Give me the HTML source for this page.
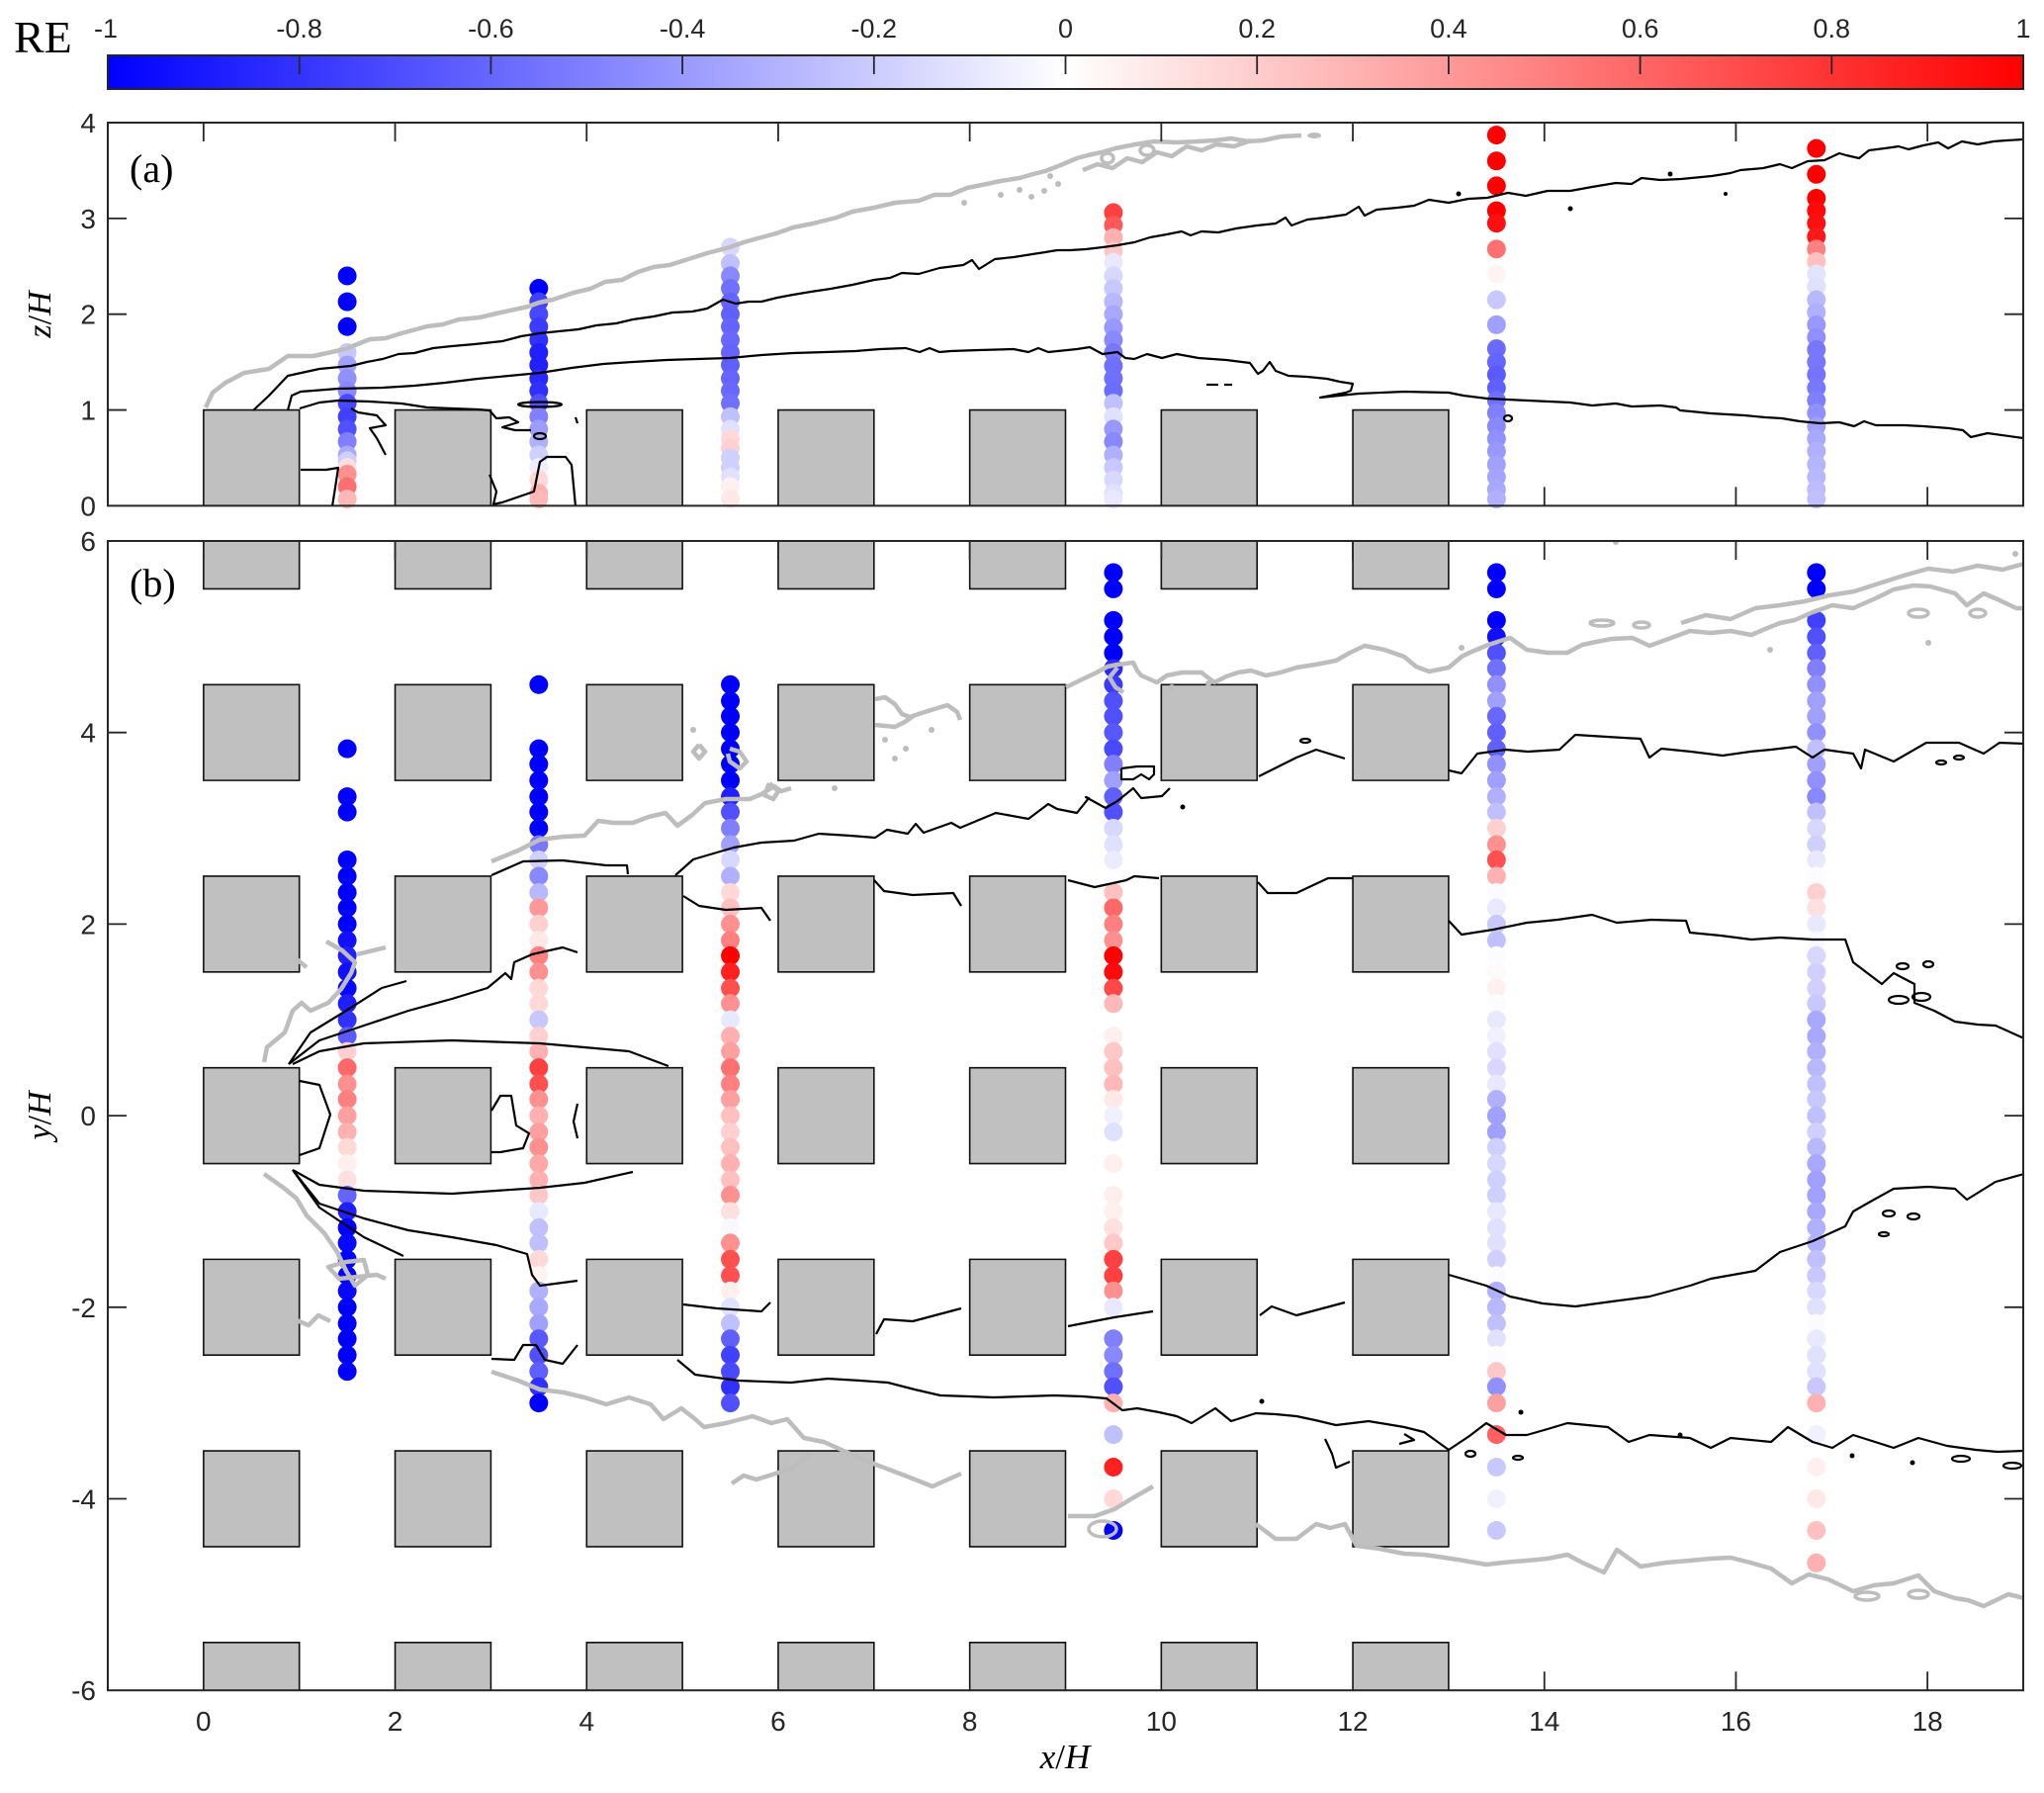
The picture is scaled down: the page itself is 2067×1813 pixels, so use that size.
<!DOCTYPE html>
<html><head><meta charset="utf-8"><style>
html,body{margin:0;padding:0;background:#fff;}
svg{display:block;}
.t{font-family:"Liberation Sans",Arial,sans-serif;font-size:28px;fill:#262626;}
.c{font-family:"Liberation Sans",Arial,sans-serif;font-size:27px;fill:#262626;}
.s{font-family:"Liberation Serif","Times New Roman",serif;fill:#000;}
.k{fill:none;stroke:#000;stroke-width:2.2;stroke-linejoin:round;}
.g{fill:none;stroke:#bdbdbd;stroke-width:4.5;stroke-linejoin:round;}
.b{fill:#c0c0c0;stroke:#111;stroke-width:1.6;vector-effect:non-scaling-stroke;}
.ax{fill:none;stroke:#262626;stroke-width:2;}
.tk{stroke:#262626;stroke-width:1.8;}
</style></head><body>
<svg width="2067" height="1813" viewBox="0 0 2067 1813" xmlns="http://www.w3.org/2000/svg">
<defs>
<linearGradient id="cb" x1="0" x2="1" y1="0" y2="0">
<stop offset="0" stop-color="#0000ff"/><stop offset="0.5" stop-color="#ffffff"/><stop offset="1" stop-color="#ff0000"/>
</linearGradient>
<clipPath id="ca"><rect x="109" y="124" width="1937" height="387.4"/></clipPath>
<clipPath id="cbp"><rect x="109" y="547" width="1937" height="1162.2"/></clipPath>
</defs>
<rect width="2067" height="1813" fill="#fff"/>

<!-- Colorbar -->
<text class="s" x="14" y="53" font-size="46">RE</text>
<rect x="109" y="56" width="1937" height="34" fill="url(#cb)" stroke="#262626" stroke-width="2"/>
<g class="tk">
<line x1="302.7" y1="56" x2="302.7" y2="75"/><line x1="496.4" y1="56" x2="496.4" y2="75"/>
<line x1="690.1" y1="56" x2="690.1" y2="75"/><line x1="883.8" y1="56" x2="883.8" y2="75"/>
<line x1="1077.5" y1="56" x2="1077.5" y2="75"/><line x1="1271.2" y1="56" x2="1271.2" y2="75"/>
<line x1="1464.9" y1="56" x2="1464.9" y2="75"/><line x1="1658.6" y1="56" x2="1658.6" y2="75"/>
<line x1="1852.3" y1="56" x2="1852.3" y2="75"/>
</g>
<g class="c" text-anchor="middle">
<text x="107" y="38">-1</text><text x="302.7" y="38">-0.8</text><text x="496.4" y="38">-0.6</text>
<text x="690.1" y="38">-0.4</text><text x="883.8" y="38">-0.2</text><text x="1077.5" y="38">0</text>
<text x="1271.2" y="38">0.2</text><text x="1464.9" y="38">0.4</text><text x="1658.6" y="38">0.6</text>
<text x="1852.3" y="38">0.8</text><text x="2046" y="38">1</text>
</g>

<!-- ================= PANEL A ================= -->
<g clip-path="url(#ca)">
<g transform="translate(205.85,511.4) scale(96.85,-96.85)">
<rect class="b" x="0" y="0" width="1" height="1"/><rect class="b" x="2" y="0" width="1" height="1"/>
<rect class="b" x="4" y="0" width="1" height="1"/><rect class="b" x="6" y="0" width="1" height="1"/>
<rect class="b" x="8" y="0" width="1" height="1"/><rect class="b" x="10" y="0" width="1" height="1"/>
<rect class="b" x="12" y="0" width="1" height="1"/>
</g>
</g>
<g transform="translate(205.85,511.4) scale(96.85,-96.85)">
<!-- col 1.5 -->
<circle cx="1.5" cy="2.4" r=".098" fill="#0000ff"/><circle cx="1.5" cy="2.13" r=".098" fill="#0000ff"/>
<circle cx="1.5" cy="1.87" r=".098" fill="#0000ff"/><circle cx="1.5" cy="1.6" r=".098" fill="#c8c8ff"/>
<circle cx="1.5" cy="1.47" r=".098" fill="#a0a0ff"/><circle cx="1.5" cy="1.33" r=".098" fill="#9090ff"/>
<circle cx="1.5" cy="1.2" r=".098" fill="#8888ff"/><circle cx="1.5" cy="1.07" r=".098" fill="#4848ff"/>
<circle cx="1.5" cy="0.93" r=".098" fill="#4040ff"/><circle cx="1.5" cy="0.8" r=".098" fill="#5050ff"/>
<circle cx="1.5" cy="0.67" r=".098" fill="#8080ff"/><circle cx="1.5" cy="0.53" r=".098" fill="#a8a8ff"/>
<circle cx="1.5" cy="0.47" r=".098" fill="#d0d0ff"/><circle cx="1.5" cy="0.4" r=".098" fill="#ffe0e0"/>
<circle cx="1.5" cy="0.33" r=".098" fill="#ff9090"/><circle cx="1.5" cy="0.2" r=".098" fill="#ff7070"/>
<circle cx="1.5" cy="0.07" r=".098" fill="#ffb8b8"/>
<!-- col 3.5 -->
<circle cx="3.5" cy="2.27" r=".098" fill="#0000ff"/><circle cx="3.5" cy="2.13" r=".098" fill="#4040ff"/>
<circle cx="3.5" cy="2.0" r=".098" fill="#4848ff"/><circle cx="3.5" cy="1.87" r=".098" fill="#3c3cff"/>
<circle cx="3.5" cy="1.73" r=".098" fill="#3030ff"/><circle cx="3.5" cy="1.6" r=".098" fill="#2020ff"/>
<circle cx="3.5" cy="1.47" r=".098" fill="#2020ff"/><circle cx="3.5" cy="1.33" r=".098" fill="#2828ff"/>
<circle cx="3.5" cy="1.2" r=".098" fill="#3030ff"/><circle cx="3.5" cy="1.07" r=".098" fill="#5050ff"/>
<circle cx="3.5" cy="0.93" r=".098" fill="#8080ff"/><circle cx="3.5" cy="0.8" r=".098" fill="#9c9cff"/>
<circle cx="3.5" cy="0.67" r=".098" fill="#b0b0ff"/><circle cx="3.5" cy="0.53" r=".098" fill="#d0d0ff"/>
<circle cx="3.5" cy="0.4" r=".098" fill="#eeeeff"/><circle cx="3.5" cy="0.27" r=".098" fill="#ffd8d8"/>
<circle cx="3.5" cy="0.13" r=".098" fill="#ffb0b0"/><circle cx="3.5" cy="0.07" r=".098" fill="#ffb8b8"/>
<!-- col 5.5 -->
<circle cx="5.5" cy="2.7" r=".098" fill="#d8d8ff"/><circle cx="5.5" cy="2.53" r=".098" fill="#c0c0ff"/>
<circle cx="5.5" cy="2.4" r=".098" fill="#8888ff"/><circle cx="5.5" cy="2.27" r=".098" fill="#7070ff"/>
<circle cx="5.5" cy="2.13" r=".098" fill="#6464ff"/><circle cx="5.5" cy="2.0" r=".098" fill="#6060ff"/>
<circle cx="5.5" cy="1.87" r=".098" fill="#6464ff"/><circle cx="5.5" cy="1.73" r=".098" fill="#6868ff"/>
<circle cx="5.5" cy="1.6" r=".098" fill="#6464ff"/><circle cx="5.5" cy="1.47" r=".098" fill="#6060ff"/>
<circle cx="5.5" cy="1.33" r=".098" fill="#6464ff"/><circle cx="5.5" cy="1.2" r=".098" fill="#6868ff"/>
<circle cx="5.5" cy="1.07" r=".098" fill="#7070ff"/><circle cx="5.5" cy="0.93" r=".098" fill="#c0c0ff"/>
<circle cx="5.5" cy="0.8" r=".098" fill="#e0e0ff"/><circle cx="5.5" cy="0.7" r=".098" fill="#ffd8d8"/>
<circle cx="5.5" cy="0.6" r=".098" fill="#ffd0d0"/><circle cx="5.5" cy="0.5" r=".098" fill="#d0d0ff"/>
<circle cx="5.5" cy="0.4" r=".098" fill="#d0d0ff"/><circle cx="5.5" cy="0.3" r=".098" fill="#e0e0ff"/>
<circle cx="5.5" cy="0.2" r=".098" fill="#fff0f0"/><circle cx="5.5" cy="0.07" r=".098" fill="#ffe8e8"/>
<!-- col 9.5 -->
<circle cx="9.5" cy="3.06" r=".098" fill="#ff4040"/><circle cx="9.5" cy="2.93" r=".098" fill="#ff5858"/>
<circle cx="9.5" cy="2.8" r=".098" fill="#ffb0b0"/><circle cx="9.5" cy="2.66" r=".098" fill="#ffc8c8"/>
<circle cx="9.5" cy="2.54" r=".098" fill="#e8e8ff"/><circle cx="9.5" cy="2.4" r=".098" fill="#d8d8ff"/>
<circle cx="9.5" cy="2.27" r=".098" fill="#c8c8ff"/><circle cx="9.5" cy="2.13" r=".098" fill="#b8b8ff"/>
<circle cx="9.5" cy="2.0" r=".098" fill="#a8a8ff"/><circle cx="9.5" cy="1.86" r=".098" fill="#9898ff"/>
<circle cx="9.5" cy="1.73" r=".098" fill="#8888ff"/><circle cx="9.5" cy="1.6" r=".098" fill="#7878ff"/>
<circle cx="9.5" cy="1.46" r=".098" fill="#7070ff"/><circle cx="9.5" cy="1.33" r=".098" fill="#7070ff"/>
<circle cx="9.5" cy="1.2" r=".098" fill="#6c6cff"/><circle cx="9.5" cy="1.07" r=".098" fill="#c0c0ff"/>
<circle cx="9.5" cy="0.93" r=".098" fill="#e0e0ff"/><circle cx="9.5" cy="0.8" r=".098" fill="#9898ff"/>
<circle cx="9.5" cy="0.67" r=".098" fill="#8888ff"/><circle cx="9.5" cy="0.53" r=".098" fill="#b0b0ff"/>
<circle cx="9.5" cy="0.4" r=".098" fill="#c8c8ff"/><circle cx="9.5" cy="0.27" r=".098" fill="#d8d8ff"/>
<circle cx="9.5" cy="0.13" r=".098" fill="#e0e0ff"/><circle cx="9.5" cy="0.07" r=".098" fill="#e8e8ff"/>
<!-- col 13.5 -->
<circle cx="13.5" cy="3.87" r=".098" fill="#ff0000"/><circle cx="13.5" cy="3.6" r=".098" fill="#ff0000"/>
<circle cx="13.5" cy="3.34" r=".098" fill="#ff0000"/><circle cx="13.5" cy="3.08" r=".098" fill="#ff0000"/>
<circle cx="13.5" cy="2.95" r=".098" fill="#ff1010"/><circle cx="13.5" cy="2.68" r=".098" fill="#ff7070"/>
<circle cx="13.5" cy="2.42" r=".098" fill="#fff4f4"/><circle cx="13.5" cy="2.15" r=".098" fill="#c8c8ff"/>
<circle cx="13.5" cy="1.89" r=".098" fill="#a0a0ff"/><circle cx="13.5" cy="1.64" r=".098" fill="#6a6aff"/>
<circle cx="13.5" cy="1.5" r=".098" fill="#6464ff"/><circle cx="13.5" cy="1.37" r=".098" fill="#5a5aff"/>
<circle cx="13.5" cy="1.23" r=".098" fill="#6060ff"/><circle cx="13.5" cy="1.1" r=".098" fill="#7070ff"/>
<circle cx="13.5" cy="0.97" r=".098" fill="#8080ff"/><circle cx="13.5" cy="0.83" r=".098" fill="#8888ff"/>
<circle cx="13.5" cy="0.7" r=".098" fill="#9090ff"/><circle cx="13.5" cy="0.57" r=".098" fill="#9898ff"/>
<circle cx="13.5" cy="0.43" r=".098" fill="#a0a0ff"/><circle cx="13.5" cy="0.3" r=".098" fill="#a4a4ff"/>
<circle cx="13.5" cy="0.17" r=".098" fill="#a8a8ff"/><circle cx="13.5" cy="0.07" r=".098" fill="#b0b0ff"/>
<!-- col 16.84 -->
<circle cx="16.84" cy="3.73" r=".098" fill="#ff0000"/><circle cx="16.84" cy="3.46" r=".098" fill="#ff0000"/>
<circle cx="16.84" cy="3.21" r=".098" fill="#ff0000"/><circle cx="16.84" cy="3.08" r=".098" fill="#ff0a0a"/>
<circle cx="16.84" cy="2.95" r=".098" fill="#ff1010"/><circle cx="16.84" cy="2.81" r=".098" fill="#ff1818"/>
<circle cx="16.84" cy="2.68" r=".098" fill="#ff8080"/><circle cx="16.84" cy="2.55" r=".098" fill="#ffc0c0"/>
<circle cx="16.84" cy="2.42" r=".098" fill="#e4e4ff"/><circle cx="16.84" cy="2.29" r=".098" fill="#e0e0ff"/>
<circle cx="16.84" cy="2.15" r=".098" fill="#b8b8ff"/><circle cx="16.84" cy="2.02" r=".098" fill="#b0b0ff"/>
<circle cx="16.84" cy="1.89" r=".098" fill="#9898ff"/><circle cx="16.84" cy="1.76" r=".098" fill="#9090ff"/>
<circle cx="16.84" cy="1.63" r=".098" fill="#7878ff"/><circle cx="16.84" cy="1.5" r=".098" fill="#7878ff"/>
<circle cx="16.84" cy="1.37" r=".098" fill="#7474ff"/><circle cx="16.84" cy="1.23" r=".098" fill="#7878ff"/>
<circle cx="16.84" cy="1.1" r=".098" fill="#8080ff"/><circle cx="16.84" cy="0.97" r=".098" fill="#9090ff"/>
<circle cx="16.84" cy="0.83" r=".098" fill="#a0a0ff"/><circle cx="16.84" cy="0.7" r=".098" fill="#a8a8ff"/>
<circle cx="16.84" cy="0.57" r=".098" fill="#b0b0ff"/><circle cx="16.84" cy="0.43" r=".098" fill="#b4b4ff"/>
<circle cx="16.84" cy="0.3" r=".098" fill="#b8b8ff"/><circle cx="16.84" cy="0.17" r=".098" fill="#bcbcff"/>
<circle cx="16.84" cy="0.07" r=".098" fill="#c0c0ff"/>
</g>
<g clip-path="url(#ca)">
<polyline class="g" points="208,412 215,397 228,387 247,377 272,373 291,360 317,360 349,353 374,343 390,342 406,337 432,330 448,328 464,323 485,321 502,317 534,310 545,306 559,303 580,296 597,292 612,285 629,283 645,275 661,270 677,268 693,263 715,256 738,250 752,245 770,240 785,236 802,230 822,226 846,220 862,214 884,210 905,205 929,203 945,197 961,197 978,190 993,187 1012,183 1031,180 1045,176 1057,173 1075,166 1089,160 1100,157 1114,154 1128,150 1148,146 1167,143 1190,144 1212,143 1228,142 1245,140 1262,143 1277,142 1296,138 1316,137"/>
<polyline class="g" points="1095,172 1110,166 1125,170 1140,160 1155,164 1170,154 1185,158 1200,148 1215,152 1230,146 1248,148 1265,142"/>
<ellipse cx="1120" cy="160" rx="6" ry="5" fill="none" stroke="#bdbdbd" stroke-width="3.5"/>
<ellipse cx="1160" cy="152" rx="7" ry="5" fill="none" stroke="#bdbdbd" stroke-width="3.5"/>
<circle cx="1031" cy="192" r="3" fill="#bdbdbd"/><circle cx="1043" cy="199" r="3" fill="#bdbdbd"/><circle cx="1062" cy="178" r="3" fill="#bdbdbd"/><circle cx="1012" cy="197" r="3" fill="#bdbdbd"/><circle cx="975" cy="205" r="3" fill="#bdbdbd"/><circle cx="1056" cy="193" r="3" fill="#bdbdbd"/><circle cx="1070" cy="186" r="3" fill="#bdbdbd"/>
<ellipse cx="1329" cy="137" rx="7" ry="3" fill="#bdbdbd"/>
<polyline class="k" points="256,415 272,400 291,380 323,373 355,370 371,366 387,363 403,358 419,357 438,352 457,350 480,348 508,345 527,340 546,337 565,335 585,333 603,329 623,327 640,323 661,320 680,316 700,315 715,312 731,303 744,307 757,305 770,305 786,301 802,298 820,295 840,292 862,288 884,283 900,281 912,276 929,277 950,271 974,268 983,263 990,272 1006,262 1025,260 1044,257 1057,255 1069,253 1082,253 1098,252 1115,250 1130,248 1147,245 1163,240 1180,237 1195,234 1204,238 1215,234 1232,235 1250,231 1271,228 1290,226 1300,220 1306,228 1322,222 1340,220 1361,217 1374,209 1380,218 1392,212 1413,210 1430,208 1445,202 1465,205 1485,201 1504,200 1525,195 1543,198 1565,193 1588,193 1610,189 1634,185 1650,186 1660,180 1679,182 1700,181 1731,178 1750,175 1760,172 1783,170 1800,166 1812,170 1828,163 1845,162 1860,155 1867,157 1880,160 1890,152 1906,150 1920,148 1930,151 1945,147 1960,144 1970,150 1984,143 2000,146 2016,143 2029,142 2046,141"/>
<polyline class="k" points="291,415 295,400 304,396 342,393 387,392 419,390 450,387 483,383 515,380 546,377 578,372 610,368 640,366 674,364 705,363 738,362 770,359 802,357 835,356 865,355 890,353 916,352 930,356 940,352 950,356 961,355 990,354 1025,353 1040,356 1050,352 1060,356 1089,353 1102,351 1115,358 1130,356 1138,362 1147,363 1160,358 1175,362 1190,358 1212,362 1240,364 1264,367 1272,378 1277,375 1284,366 1290,375 1303,380 1322,381 1342,383 1355,386 1368,388 1366,395 1361,397 1335,402 1374,398 1420,396 1465,397 1480,400 1504,403 1545,405 1588,407 1610,410 1634,408 1650,411 1679,410 1695,412 1699,415 1710,416 1730,418 1764,420 1785,422 1802,423 1820,426 1841,428 1860,427 1875,431 1885,426 1897,430 1926,430 1945,431 1971,433 1985,435 1993,442 2010,438 2046,443"/>
<polyline class="k" points="303,413 323,407 342,405 374,406 406,408 432,412 483,414 495,415 502,423 515,422 524,427 508,432 521,435 537,435"/>
<polyline class="k" points="355,413 362,417 381,420 390,430 374,433 381,443 390,460"/>
<polyline class="k" points="304,475 330,475 342,473 339,493 336,512"/>
<polyline class="k" points="495,480 502,497 499,510 508,508 540,497 546,467 553,462 572,462 578,470 582,512"/>
<ellipse class="k" cx="546" cy="409" rx="22" ry="2.5"/>
<ellipse class="k" cx="546" cy="441" rx="6" ry="3"/>
<line class="k" x1="1220" y1="389" x2="1232" y2="389"/><line class="k" x1="1238" y1="389" x2="1246" y2="389"/>
<line class="k" x1="582" y1="422" x2="584" y2="428"/>
<ellipse class="k" cx="1525" cy="423" rx="4" ry="3"/>
<circle cx="1475" cy="196" r="2.5"/><circle cx="1689" cy="176" r="2.5"/><circle cx="1745" cy="196" r="2"/><circle cx="1588" cy="211" r="2.5"/>
</g>
<rect class="ax" x="109" y="124" width="1937" height="387.4"/>
<g class="tk">
<line x1="205.85" y1="124" x2="205.85" y2="143"/><line x1="399.55" y1="124" x2="399.55" y2="143"/><line x1="593.25" y1="124" x2="593.25" y2="143"/><line x1="786.95" y1="124" x2="786.95" y2="143"/><line x1="980.65" y1="124" x2="980.65" y2="143"/><line x1="1174.35" y1="124" x2="1174.35" y2="143"/><line x1="1368.05" y1="124" x2="1368.05" y2="143"/><line x1="1561.75" y1="124" x2="1561.75" y2="143"/><line x1="1755.45" y1="124" x2="1755.45" y2="143"/><line x1="1949.15" y1="124" x2="1949.15" y2="143"/>
<line x1="1561.75" y1="511.4" x2="1561.75" y2="492.4"/><line x1="1755.45" y1="511.4" x2="1755.45" y2="492.4"/><line x1="1949.15" y1="511.4" x2="1949.15" y2="492.4"/>
<line x1="109" y1="414.55" x2="128" y2="414.55"/><line x1="109" y1="317.7" x2="128" y2="317.7"/><line x1="109" y1="220.85" x2="128" y2="220.85"/>
<line x1="2046" y1="414.55" x2="2027" y2="414.55"/><line x1="2046" y1="317.7" x2="2027" y2="317.7"/><line x1="2046" y1="220.85" x2="2027" y2="220.85"/>
</g>
<g class="t" text-anchor="end">
<text x="97" y="521.4">0</text><text x="97" y="424.6">1</text><text x="97" y="327.7">2</text><text x="97" y="230.9">3</text><text x="97" y="134">4</text>
</g>
<text class="s" x="131" y="184" font-size="40">(a)</text>
<text class="s" font-size="34" text-anchor="middle" transform="translate(51,318) rotate(-90)"><tspan font-style="italic">z</tspan>/<tspan font-style="italic">H</tspan></text>

<!-- ================= PANEL B ================= -->
<g clip-path="url(#cbp)">
<g transform="translate(205.85,1128.1) scale(96.85,-96.85)">
<g id="row">
<rect class="b" x="0" y="-0.5" width="1" height="1"/><rect class="b" x="2" y="-0.5" width="1" height="1"/>
<rect class="b" x="4" y="-0.5" width="1" height="1"/><rect class="b" x="6" y="-0.5" width="1" height="1"/>
<rect class="b" x="8" y="-0.5" width="1" height="1"/><rect class="b" x="10" y="-0.5" width="1" height="1"/>
<rect class="b" x="12" y="-0.5" width="1" height="1"/>
</g>
<use href="#row" y="2"/><use href="#row" y="4"/><use href="#row" y="6"/>
<use href="#row" y="-2"/><use href="#row" y="-4"/><use href="#row" y="-6"/>
</g>
</g>
<g transform="translate(205.85,1128.1) scale(96.85,-96.85)">
<!-- col 1.5 -->
<circle cx="1.5" cy="3.83" r=".098" fill="#0000ff"/><circle cx="1.5" cy="3.33" r=".098" fill="#0000ff"/>
<circle cx="1.5" cy="3.17" r=".098" fill="#0000ff"/><circle cx="1.5" cy="2.67" r=".098" fill="#0000ff"/>
<circle cx="1.5" cy="2.5" r=".098" fill="#0000ff"/><circle cx="1.5" cy="2.33" r=".098" fill="#0000ff"/>
<circle cx="1.5" cy="2.17" r=".098" fill="#0000ff"/><circle cx="1.5" cy="2.0" r=".098" fill="#0000ff"/>
<circle cx="1.5" cy="1.83" r=".098" fill="#1010ff"/><circle cx="1.5" cy="1.67" r=".098" fill="#2020ff"/>
<circle cx="1.5" cy="1.5" r=".098" fill="#1010ff"/><circle cx="1.5" cy="1.33" r=".098" fill="#0808ff"/>
<circle cx="1.5" cy="1.17" r=".098" fill="#2020ff"/><circle cx="1.5" cy="1.0" r=".098" fill="#3030ff"/>
<circle cx="1.5" cy="0.83" r=".098" fill="#5a5aff"/><circle cx="1.5" cy="0.67" r=".098" fill="#ffd0d0"/>
<circle cx="1.5" cy="0.5" r=".098" fill="#ff6868"/><circle cx="1.5" cy="0.33" r=".098" fill="#ff9090"/>
<circle cx="1.5" cy="0.17" r=".098" fill="#ff8080"/><circle cx="1.5" cy="0" r=".098" fill="#ffa0a0"/>
<circle cx="1.5" cy="-0.17" r=".098" fill="#ffb0b0"/><circle cx="1.5" cy="-0.33" r=".098" fill="#ffd8d8"/>
<circle cx="1.5" cy="-0.5" r=".098" fill="#fff0f0"/><circle cx="1.5" cy="-0.67" r=".098" fill="#ffe0e0"/>
<circle cx="1.5" cy="-0.83" r=".098" fill="#6464ff"/><circle cx="1.5" cy="-1.0" r=".098" fill="#2020ff"/>
<circle cx="1.5" cy="-1.17" r=".098" fill="#0000ff"/><circle cx="1.5" cy="-1.33" r=".098" fill="#0808ff"/>
<circle cx="1.5" cy="-1.5" r=".098" fill="#0000ff"/><circle cx="1.5" cy="-1.67" r=".098" fill="#0000ff"/>
<circle cx="1.5" cy="-1.83" r=".098" fill="#0808ff"/><circle cx="1.5" cy="-2.0" r=".098" fill="#0000ff"/>
<circle cx="1.5" cy="-2.17" r=".098" fill="#0000ff"/><circle cx="1.5" cy="-2.33" r=".098" fill="#0000ff"/>
<circle cx="1.5" cy="-2.5" r=".098" fill="#0000ff"/><circle cx="1.5" cy="-2.67" r=".098" fill="#0000ff"/>
<!-- col 3.5 -->
<circle cx="3.5" cy="4.5" r=".098" fill="#0000ff"/><circle cx="3.5" cy="3.83" r=".098" fill="#0000ff"/>
<circle cx="3.5" cy="3.67" r=".098" fill="#0000ff"/><circle cx="3.5" cy="3.5" r=".098" fill="#0000ff"/>
<circle cx="3.5" cy="3.33" r=".098" fill="#0000ff"/><circle cx="3.5" cy="3.17" r=".098" fill="#0000ff"/>
<circle cx="3.5" cy="3.0" r=".098" fill="#0000ff"/><circle cx="3.5" cy="2.83" r=".098" fill="#7878ff"/>
<circle cx="3.5" cy="2.67" r=".098" fill="#d0d0ff"/><circle cx="3.5" cy="2.5" r=".098" fill="#8888ff"/>
<circle cx="3.5" cy="2.33" r=".098" fill="#b8b8ff"/><circle cx="3.5" cy="2.17" r=".098" fill="#ff9898"/>
<circle cx="3.5" cy="2.0" r=".098" fill="#ffd0d0"/><circle cx="3.5" cy="1.83" r=".098" fill="#ffe8e8"/>
<circle cx="3.5" cy="1.67" r=".098" fill="#ff8080"/><circle cx="3.5" cy="1.5" r=".098" fill="#ff9090"/>
<circle cx="3.5" cy="1.33" r=".098" fill="#ffd8d8"/><circle cx="3.5" cy="1.17" r=".098" fill="#ffd8d8"/>
<circle cx="3.5" cy="1.0" r=".098" fill="#c8c8ff"/><circle cx="3.5" cy="0.83" r=".098" fill="#ffd0d0"/>
<circle cx="3.5" cy="0.67" r=".098" fill="#ffb0b0"/><circle cx="3.5" cy="0.5" r=".098" fill="#ff4040"/>
<circle cx="3.5" cy="0.33" r=".098" fill="#ff5050"/><circle cx="3.5" cy="0.17" r=".098" fill="#ff9090"/>
<circle cx="3.5" cy="0" r=".098" fill="#ffb0b0"/><circle cx="3.5" cy="-0.17" r=".098" fill="#ffa0a0"/>
<circle cx="3.5" cy="-0.33" r=".098" fill="#ff9090"/><circle cx="3.5" cy="-0.5" r=".098" fill="#ffa8a8"/>
<circle cx="3.5" cy="-0.67" r=".098" fill="#ffb0b0"/><circle cx="3.5" cy="-0.83" r=".098" fill="#ffc8c8"/>
<circle cx="3.5" cy="-1.0" r=".098" fill="#e8e8ff"/><circle cx="3.5" cy="-1.17" r=".098" fill="#c0c0ff"/>
<circle cx="3.5" cy="-1.33" r=".098" fill="#c0c0ff"/><circle cx="3.5" cy="-1.5" r=".098" fill="#ffd8d8"/>
<circle cx="3.5" cy="-1.67" r=".098" fill="#fff4f4"/><circle cx="3.5" cy="-1.83" r=".098" fill="#b0b0ff"/>
<circle cx="3.5" cy="-2.0" r=".098" fill="#a8a8ff"/><circle cx="3.5" cy="-2.17" r=".098" fill="#a0a0ff"/>
<circle cx="3.5" cy="-2.33" r=".098" fill="#5858ff"/><circle cx="3.5" cy="-2.5" r=".098" fill="#5050ff"/>
<circle cx="3.5" cy="-2.67" r=".098" fill="#6060ff"/><circle cx="3.5" cy="-2.83" r=".098" fill="#3030ff"/>
<circle cx="3.5" cy="-3.0" r=".098" fill="#0000ff"/>
<!-- col 5.5 -->
<circle cx="5.5" cy="4.5" r=".098" fill="#0000ff"/><circle cx="5.5" cy="4.33" r=".098" fill="#0000ff"/>
<circle cx="5.5" cy="4.17" r=".098" fill="#0000ff"/><circle cx="5.5" cy="4.0" r=".098" fill="#0000ff"/>
<circle cx="5.5" cy="3.83" r=".098" fill="#0000ff"/><circle cx="5.5" cy="3.67" r=".098" fill="#0000ff"/>
<circle cx="5.5" cy="3.5" r=".098" fill="#0000ff"/><circle cx="5.5" cy="3.33" r=".098" fill="#2020ff"/>
<circle cx="5.5" cy="3.17" r=".098" fill="#5050ff"/><circle cx="5.5" cy="3.0" r=".098" fill="#8080ff"/>
<circle cx="5.5" cy="2.83" r=".098" fill="#a0a0ff"/><circle cx="5.5" cy="2.67" r=".098" fill="#d8d8ff"/>
<circle cx="5.5" cy="2.5" r=".098" fill="#b0b0ff"/><circle cx="5.5" cy="2.33" r=".098" fill="#ffd8d8"/>
<circle cx="5.5" cy="2.17" r=".098" fill="#ffc0c0"/><circle cx="5.5" cy="2.0" r=".098" fill="#ff9090"/>
<circle cx="5.5" cy="1.83" r=".098" fill="#ff8080"/><circle cx="5.5" cy="1.67" r=".098" fill="#ff0000"/>
<circle cx="5.5" cy="1.5" r=".098" fill="#ff2020"/><circle cx="5.5" cy="1.33" r=".098" fill="#ff5050"/>
<circle cx="5.5" cy="1.17" r=".098" fill="#ff9090"/><circle cx="5.5" cy="1.0" r=".098" fill="#e8e8ff"/>
<circle cx="5.5" cy="0.83" r=".098" fill="#ffb0b0"/><circle cx="5.5" cy="0.67" r=".098" fill="#ffa0a0"/>
<circle cx="5.5" cy="0.5" r=".098" fill="#ff7070"/><circle cx="5.5" cy="0.33" r=".098" fill="#ff8080"/>
<circle cx="5.5" cy="0.17" r=".098" fill="#ffa0a0"/><circle cx="5.5" cy="0" r=".098" fill="#ffc0c0"/>
<circle cx="5.5" cy="-0.17" r=".098" fill="#ffd0d0"/><circle cx="5.5" cy="-0.33" r=".098" fill="#ffc0c0"/>
<circle cx="5.5" cy="-0.5" r=".098" fill="#ffb0b0"/><circle cx="5.5" cy="-0.67" r=".098" fill="#ffc0c0"/>
<circle cx="5.5" cy="-0.83" r=".098" fill="#ff9090"/><circle cx="5.5" cy="-1.0" r=".098" fill="#ffe0e0"/>
<circle cx="5.5" cy="-1.17" r=".098" fill="#f8f8ff"/><circle cx="5.5" cy="-1.33" r=".098" fill="#ff9090"/>
<circle cx="5.5" cy="-1.5" r=".098" fill="#ff5050"/><circle cx="5.5" cy="-1.67" r=".098" fill="#ff5050"/>
<circle cx="5.5" cy="-1.83" r=".098" fill="#fff0f0"/><circle cx="5.5" cy="-2.0" r=".098" fill="#e0e0ff"/>
<circle cx="5.5" cy="-2.17" r=".098" fill="#c0c0ff"/><circle cx="5.5" cy="-2.33" r=".098" fill="#6060ff"/>
<circle cx="5.5" cy="-2.5" r=".098" fill="#4040ff"/><circle cx="5.5" cy="-2.67" r=".098" fill="#4848ff"/>
<circle cx="5.5" cy="-2.83" r=".098" fill="#3030ff"/><circle cx="5.5" cy="-3.0" r=".098" fill="#5050ff"/>
<!-- col 9.5 -->
<circle cx="9.5" cy="5.67" r=".098" fill="#0000ff"/><circle cx="9.5" cy="5.5" r=".098" fill="#0000ff"/>
<circle cx="9.5" cy="5.17" r=".098" fill="#0000ff"/><circle cx="9.5" cy="5.0" r=".098" fill="#0000ff"/>
<circle cx="9.5" cy="4.83" r=".098" fill="#0000ff"/><circle cx="9.5" cy="4.67" r=".098" fill="#2a2aff"/>
<circle cx="9.5" cy="4.5" r=".098" fill="#3a3aff"/><circle cx="9.5" cy="4.33" r=".098" fill="#5050ff"/>
<circle cx="9.5" cy="4.17" r=".098" fill="#5050ff"/><circle cx="9.5" cy="4.0" r=".098" fill="#5858ff"/>
<circle cx="9.5" cy="3.83" r=".098" fill="#4848ff"/><circle cx="9.5" cy="3.67" r=".098" fill="#8080ff"/>
<circle cx="9.5" cy="3.5" r=".098" fill="#a0a0ff"/><circle cx="9.5" cy="3.33" r=".098" fill="#6060ff"/>
<circle cx="9.5" cy="3.17" r=".098" fill="#5050ff"/><circle cx="9.5" cy="3.0" r=".098" fill="#d8d8ff"/>
<circle cx="9.5" cy="2.83" r=".098" fill="#e0e0ff"/><circle cx="9.5" cy="2.67" r=".098" fill="#ececff"/>
<circle cx="9.5" cy="2.33" r=".098" fill="#ffc0c0"/><circle cx="9.5" cy="2.17" r=".098" fill="#ff6868"/>
<circle cx="9.5" cy="2.0" r=".098" fill="#ff8080"/><circle cx="9.5" cy="1.83" r=".098" fill="#ff9090"/>
<circle cx="9.5" cy="1.67" r=".098" fill="#ff0000"/><circle cx="9.5" cy="1.5" r=".098" fill="#ff0a0a"/>
<circle cx="9.5" cy="1.33" r=".098" fill="#ff4848"/><circle cx="9.5" cy="1.17" r=".098" fill="#ffb8b8"/>
<circle cx="9.5" cy="0.83" r=".098" fill="#fff0f0"/><circle cx="9.5" cy="0.67" r=".098" fill="#ffc8c8"/>
<circle cx="9.5" cy="0.5" r=".098" fill="#ffc0c0"/><circle cx="9.5" cy="0.33" r=".098" fill="#ffb8b8"/>
<circle cx="9.5" cy="0.17" r=".098" fill="#ffe8e8"/><circle cx="9.5" cy="0" r=".098" fill="#f0f0ff"/>
<circle cx="9.5" cy="-0.17" r=".098" fill="#e0e0ff"/><circle cx="9.5" cy="-0.5" r=".098" fill="#fff0f0"/>
<circle cx="9.5" cy="-0.83" r=".098" fill="#ffeeee"/><circle cx="9.5" cy="-1.0" r=".098" fill="#fff0f0"/>
<circle cx="9.5" cy="-1.17" r=".098" fill="#ffe0e0"/><circle cx="9.5" cy="-1.33" r=".098" fill="#ffc8c8"/>
<circle cx="9.5" cy="-1.5" r=".098" fill="#ff4040"/><circle cx="9.5" cy="-1.67" r=".098" fill="#ff4040"/>
<circle cx="9.5" cy="-1.83" r=".098" fill="#ff9090"/><circle cx="9.5" cy="-2.0" r=".098" fill="#e8e8ff"/>
<circle cx="9.5" cy="-2.33" r=".098" fill="#8080ff"/><circle cx="9.5" cy="-2.5" r=".098" fill="#8888ff"/>
<circle cx="9.5" cy="-2.67" r=".098" fill="#7070ff"/><circle cx="9.5" cy="-2.83" r=".098" fill="#5050ff"/>
<circle cx="9.5" cy="-3.0" r=".098" fill="#ffb0b0"/><circle cx="9.5" cy="-3.33" r=".098" fill="#c0c0ff"/>
<circle cx="9.5" cy="-3.67" r=".098" fill="#ff2020"/><circle cx="9.5" cy="-4.0" r=".098" fill="#ffd8d8"/>
<circle cx="9.5" cy="-4.33" r=".098" fill="#0000ff"/>
<!-- col 13.5 -->
<circle cx="13.5" cy="5.67" r=".098" fill="#0000ff"/><circle cx="13.5" cy="5.5" r=".098" fill="#0000ff"/>
<circle cx="13.5" cy="5.17" r=".098" fill="#0000ff"/><circle cx="13.5" cy="5.0" r=".098" fill="#1010ff"/>
<circle cx="13.5" cy="4.83" r=".098" fill="#5050ff"/><circle cx="13.5" cy="4.67" r=".098" fill="#7070ff"/>
<circle cx="13.5" cy="4.5" r=".098" fill="#9090ff"/><circle cx="13.5" cy="4.33" r=".098" fill="#a0a0ff"/>
<circle cx="13.5" cy="4.17" r=".098" fill="#6868ff"/><circle cx="13.5" cy="4.0" r=".098" fill="#6060ff"/>
<circle cx="13.5" cy="3.83" r=".098" fill="#6060ff"/><circle cx="13.5" cy="3.67" r=".098" fill="#9090ff"/>
<circle cx="13.5" cy="3.5" r=".098" fill="#a0a0ff"/><circle cx="13.5" cy="3.33" r=".098" fill="#b0b0ff"/>
<circle cx="13.5" cy="3.17" r=".098" fill="#c0c0ff"/><circle cx="13.5" cy="3.0" r=".098" fill="#ffd0d0"/>
<circle cx="13.5" cy="2.83" r=".098" fill="#ff9090"/><circle cx="13.5" cy="2.67" r=".098" fill="#ff5050"/>
<circle cx="13.5" cy="2.5" r=".098" fill="#ffb0b0"/><circle cx="13.5" cy="2.33" r=".098" fill="#fafaff"/>
<circle cx="13.5" cy="2.17" r=".098" fill="#e8e8ff"/><circle cx="13.5" cy="2.0" r=".098" fill="#c8c8ff"/>
<circle cx="13.5" cy="1.83" r=".098" fill="#c0c0ff"/><circle cx="13.5" cy="1.67" r=".098" fill="#fcfcff"/>
<circle cx="13.5" cy="1.5" r=".098" fill="#fffafa"/><circle cx="13.5" cy="1.33" r=".098" fill="#fff0f0"/>
<circle cx="13.5" cy="1.17" r=".098" fill="#fcfcff"/><circle cx="13.5" cy="1.0" r=".098" fill="#e8e8ff"/>
<circle cx="13.5" cy="0.83" r=".098" fill="#f0f0ff"/><circle cx="13.5" cy="0.67" r=".098" fill="#e0e0ff"/>
<circle cx="13.5" cy="0.5" r=".098" fill="#d8d8ff"/><circle cx="13.5" cy="0.33" r=".098" fill="#e8e8ff"/>
<circle cx="13.5" cy="0.17" r=".098" fill="#b0b0ff"/><circle cx="13.5" cy="0" r=".098" fill="#a0a0ff"/>
<circle cx="13.5" cy="-0.17" r=".098" fill="#a0a0ff"/><circle cx="13.5" cy="-0.33" r=".098" fill="#d0d0ff"/>
<circle cx="13.5" cy="-0.5" r=".098" fill="#d8d8ff"/><circle cx="13.5" cy="-0.67" r=".098" fill="#d0d0ff"/>
<circle cx="13.5" cy="-0.83" r=".098" fill="#d0d0ff"/><circle cx="13.5" cy="-1.0" r=".098" fill="#e8e8ff"/>
<circle cx="13.5" cy="-1.17" r=".098" fill="#e0e0ff"/><circle cx="13.5" cy="-1.33" r=".098" fill="#e0e0ff"/>
<circle cx="13.5" cy="-1.5" r=".098" fill="#d0d0ff"/><circle cx="13.5" cy="-1.67" r=".098" fill="#fcfcff"/>
<circle cx="13.5" cy="-1.83" r=".098" fill="#b0b0ff"/><circle cx="13.5" cy="-2.0" r=".098" fill="#b8b8ff"/>
<circle cx="13.5" cy="-2.17" r=".098" fill="#c0c0ff"/><circle cx="13.5" cy="-2.33" r=".098" fill="#e0e0ff"/>
<circle cx="13.5" cy="-2.5" r=".098" fill="#fcfcff"/><circle cx="13.5" cy="-2.67" r=".098" fill="#ffc8c8"/>
<circle cx="13.5" cy="-2.83" r=".098" fill="#9090ff"/><circle cx="13.5" cy="-3.0" r=".098" fill="#ffa0a0"/>
<circle cx="13.5" cy="-3.33" r=".098" fill="#ff6060"/><circle cx="13.5" cy="-3.67" r=".098" fill="#c8c8ff"/>
<circle cx="13.5" cy="-4.0" r=".098" fill="#f0f0ff"/><circle cx="13.5" cy="-4.33" r=".098" fill="#c8c8ff"/>
<!-- col 16.84 -->
<circle cx="16.84" cy="5.67" r=".098" fill="#0000ff"/><circle cx="16.84" cy="5.5" r=".098" fill="#0000ff"/>
<circle cx="16.84" cy="5.17" r=".098" fill="#4040ff"/><circle cx="16.84" cy="5.0" r=".098" fill="#5050ff"/>
<circle cx="16.84" cy="4.83" r=".098" fill="#6060ff"/><circle cx="16.84" cy="4.67" r=".098" fill="#8080ff"/>
<circle cx="16.84" cy="4.5" r=".098" fill="#9090ff"/><circle cx="16.84" cy="4.33" r=".098" fill="#a0a0ff"/>
<circle cx="16.84" cy="4.17" r=".098" fill="#a0a0ff"/><circle cx="16.84" cy="4.0" r=".098" fill="#9090ff"/>
<circle cx="16.84" cy="3.83" r=".098" fill="#c0c0ff"/><circle cx="16.84" cy="3.67" r=".098" fill="#a0a0ff"/>
<circle cx="16.84" cy="3.5" r=".098" fill="#9090ff"/><circle cx="16.84" cy="3.33" r=".098" fill="#8888ff"/>
<circle cx="16.84" cy="3.17" r=".098" fill="#c0c0ff"/><circle cx="16.84" cy="3.0" r=".098" fill="#d8d8ff"/>
<circle cx="16.84" cy="2.83" r=".098" fill="#d0d0ff"/><circle cx="16.84" cy="2.67" r=".098" fill="#e8e8ff"/>
<circle cx="16.84" cy="2.5" r=".098" fill="#fcfcff"/><circle cx="16.84" cy="2.33" r=".098" fill="#ffd0d0"/>
<circle cx="16.84" cy="2.17" r=".098" fill="#ffe0e0"/><circle cx="16.84" cy="2.0" r=".098" fill="#e8e8ff"/>
<circle cx="16.84" cy="1.83" r=".098" fill="#f8f8ff"/><circle cx="16.84" cy="1.67" r=".098" fill="#d8d8ff"/>
<circle cx="16.84" cy="1.5" r=".098" fill="#d0d0ff"/><circle cx="16.84" cy="1.33" r=".098" fill="#d0d0ff"/>
<circle cx="16.84" cy="1.17" r=".098" fill="#c8c8ff"/><circle cx="16.84" cy="1.0" r=".098" fill="#a8a8ff"/>
<circle cx="16.84" cy="0.83" r=".098" fill="#a8a8ff"/><circle cx="16.84" cy="0.67" r=".098" fill="#b0b0ff"/>
<circle cx="16.84" cy="0.5" r=".098" fill="#b8b8ff"/><circle cx="16.84" cy="0.33" r=".098" fill="#c0c0ff"/>
<circle cx="16.84" cy="0.17" r=".098" fill="#c8c8ff"/><circle cx="16.84" cy="0" r=".098" fill="#c0c0ff"/>
<circle cx="16.84" cy="-0.17" r=".098" fill="#d0d0ff"/><circle cx="16.84" cy="-0.33" r=".098" fill="#b8b8ff"/>
<circle cx="16.84" cy="-0.5" r=".098" fill="#a8a8ff"/><circle cx="16.84" cy="-0.67" r=".098" fill="#a0a0ff"/>
<circle cx="16.84" cy="-0.83" r=".098" fill="#a0a0ff"/><circle cx="16.84" cy="-1.0" r=".098" fill="#a8a8ff"/>
<circle cx="16.84" cy="-1.17" r=".098" fill="#b0b0ff"/><circle cx="16.84" cy="-1.33" r=".098" fill="#b0b0ff"/>
<circle cx="16.84" cy="-1.5" r=".098" fill="#c0c0ff"/><circle cx="16.84" cy="-1.67" r=".098" fill="#c8c8ff"/>
<circle cx="16.84" cy="-1.83" r=".098" fill="#d8d8ff"/><circle cx="16.84" cy="-2.0" r=".098" fill="#e0e0ff"/>
<circle cx="16.84" cy="-2.17" r=".098" fill="#fafaff"/><circle cx="16.84" cy="-2.33" r=".098" fill="#e8e8ff"/>
<circle cx="16.84" cy="-2.5" r=".098" fill="#e0e0ff"/><circle cx="16.84" cy="-2.67" r=".098" fill="#e0e0ff"/>
<circle cx="16.84" cy="-2.83" r=".098" fill="#c8c8ff"/><circle cx="16.84" cy="-3.0" r=".098" fill="#ffb0b0"/>
<circle cx="16.84" cy="-3.33" r=".098" fill="#f0f0ff"/><circle cx="16.84" cy="-3.67" r=".098" fill="#fff0f0"/>
<circle cx="16.84" cy="-4.0" r=".098" fill="#ffe8e8"/><circle cx="16.84" cy="-4.33" r=".098" fill="#ffc0c0"/>
<circle cx="16.84" cy="-4.67" r=".098" fill="#ffb0b0"/>
</g>
<g clip-path="url(#cbp)">
<!-- gray contours -->
<polyline class="g" points="497,871 524,860 546,849 570,846 591,845 605,830 620,832 640,832 656,826 673,822 685,835 700,824 713,812 734,808 758,808 770,803 783,795 790,800 800,797"/>
<polyline class="g" points="778,792 787,800 782,808 773,804 778,792"/>
<polyline class="g" points="738,757 748,760 755,770 748,777 738,770 736,762"/>
<polyline class="g" points="707,753 713,760 707,767 701,760 707,753"/>
<circle cx="701" cy="738" r="3" fill="#bdbdbd"/><circle cx="895" cy="748" r="3" fill="#bdbdbd"/><circle cx="905" cy="767" r="3" fill="#bdbdbd"/><circle cx="942" cy="738" r="3" fill="#bdbdbd"/><circle cx="916" cy="757" r="3" fill="#bdbdbd"/><circle cx="844" cy="797" r="3" fill="#bdbdbd"/>
<polyline class="g" points="885,707 895,705 905,712 912,722 920,725 935,720 948,716 958,713 968,720 971,728"/>
<polyline class="g" points="885,733 905,735 915,730 925,723"/>
<polyline class="g" points="1078,695 1092,688 1109,680 1120,674 1130,672 1146,670 1150,678 1154,683 1170,690 1180,683 1195,680 1215,680 1228,690 1240,684 1252,680 1265,678 1280,683 1295,680 1311,675 1330,672 1351,668 1365,660 1380,653 1400,657 1420,664 1432,674 1445,679 1465,675 1478,664 1486,660 1505,652 1527,645 1544,657 1565,660 1585,660 1600,652 1614,649 1630,646 1651,645 1668,653 1690,645 1709,638 1730,640 1750,638 1771,642 1785,636 1800,630 1815,627 1833,619 1853,612 1874,615 1899,604 1915,596 1935,592 1952,593 1977,600 1989,612 2006,600 2020,606 2039,615 2047,615"/>
<polyline class="g" points="1130,675 1122,685 1128,695 1136,700"/>
<polyline class="g" points="1700,630 1725,622 1750,626 1775,615 1800,612 1825,608 1850,602 1875,598 1900,590 1925,582 1950,575 1975,578 2000,572 2025,576 2047,570"/>
<ellipse cx="1620" cy="630" rx="12" ry="3" fill="none" stroke="#bdbdbd" stroke-width="3.5"/>
<ellipse cx="1660" cy="632" rx="8" ry="3" fill="none" stroke="#bdbdbd" stroke-width="3.5"/>
<ellipse cx="1940" cy="620" rx="10" ry="4" fill="none" stroke="#bdbdbd" stroke-width="3.5"/>
<ellipse cx="2000" cy="620" rx="8" ry="4" fill="none" stroke="#bdbdbd" stroke-width="3.5"/>
<circle cx="1634" cy="548" r="3" fill="#bdbdbd"/><circle cx="1478" cy="655" r="3" fill="#bdbdbd"/><circle cx="1790" cy="657" r="3" fill="#bdbdbd"/><circle cx="2038" cy="560" r="3" fill="#bdbdbd"/><circle cx="1950" cy="650" r="3" fill="#bdbdbd"/><circle cx="1222" cy="691" r="3" fill="#bdbdbd"/><circle cx="1185" cy="695" r="3" fill="#bdbdbd"/>
<polyline class="g" points="267,1074 270,1059 288,1044 296,1022 305,1014 314,1022 332,1014 345,1000 355,984 359,973 346,961 330,952"/>
<polyline class="g" points="300,970 310,978"/>
<polyline class="g" points="361,965 390,958"/>
<polyline class="g" points="267,1187 288,1202 300,1212 310,1229 328,1247 341,1266 350,1285 359,1300 372,1289 368,1274 350,1276 332,1281 343,1293 381,1289 390,1293"/>
<polyline class="g" points="300,1335 312,1340 322,1330 334,1336"/>
<polyline class="g" points="497,1387 524,1396 546,1405 570,1408 591,1413 613,1420 636,1413 658,1420 671,1435 689,1424 703,1435 712,1443 734,1439 761,1432 780,1439 796,1435 813,1454 833,1458 860,1470 886,1481 915,1492 943,1503 972,1490"/>
<polyline class="g" points="740,1500 752,1492 765,1496 800,1485 820,1470"/>
<polyline class="g" points="1080,1533 1107,1533 1127,1526 1145,1515 1166,1503"/>
<polyline class="g" points="1270,1541 1290,1556 1311,1556 1331,1541 1345,1545 1360,1541 1372,1563 1395,1566 1420,1571 1440,1572 1461,1575 1480,1578 1503,1582 1520,1580 1544,1578 1565,1576 1585,1572 1600,1580 1622,1590 1635,1567 1659,1584 1685,1580 1709,1578 1730,1576 1750,1575 1770,1580 1791,1586 1812,1601 1829,1592 1849,1597 1874,1609 1895,1603 1915,1601 1940,1593 1956,1609 1977,1616 1990,1618 2006,1624 2031,1612 2047,1616"/>
<ellipse cx="1115" cy="1546" rx="14" ry="8" fill="none" stroke="#bdbdbd" stroke-width="3.5"/>
<ellipse cx="1888" cy="1614" rx="12" ry="4" fill="none" stroke="#bdbdbd" stroke-width="3.5"/>
<ellipse cx="1940" cy="1612" rx="10" ry="4" fill="none" stroke="#bdbdbd" stroke-width="3.5"/>
<!-- black contours -->
<polyline class="k" points="292,1076 314,1044 350,1022 386,999 411,992"/>
<polyline class="k" points="292,1076 323,1052 368,1037 413,1022 457,1010 493,999 511,984 517,990 520,973 538,965 569,958 584,963"/>
<polyline class="k" points="296,1076 323,1063 368,1055 457,1052 546,1055 636,1063 676,1078"/>
<polyline class="k" points="296,1183 323,1198 368,1204 457,1207 546,1201 591,1196 640,1185"/>
<polyline class="k" points="296,1183 323,1217 368,1232 413,1244 457,1251 502,1259 533,1268 538,1289 546,1300 584,1295"/>
<polyline class="k" points="296,1183 323,1221 368,1251 408,1270"/>
<polyline class="k" points="303,1093 323,1097 334,1127 323,1161 303,1168"/>
<polyline class="k" points="497,1123 506,1108 517,1108 522,1138 535,1146 529,1161 506,1165 497,1165"/>
<polyline class="k" points="584,1116 580,1134 584,1151"/>
<polyline class="k" points="497,885 529,871 569,870 613,875 634,875 635,884"/>
<polyline class="k" points="683,885 701,869 742,857 770,852 803,850 828,843 860,845 885,847 897,839 918,843 926,833 934,842 962,832 971,837 1007,822 1040,828 1060,813 1069,818 1089,822 1101,807 1098,806 1118,817 1130,810 1146,797 1154,807 1175,805 1183,797"/>
<polyline class="k" points="1134,777 1134,788 1146,788 1154,783 1162,788 1167,783 1167,775 1150,775 1134,777"/>
<circle cx="1196" cy="816" r="2.5"/>
<polyline class="k" points="1273,785 1311,766 1331,758 1360,767"/>
<ellipse class="k" cx="1320" cy="749" rx="5" ry="2"/>
<polyline class="k" points="1465,779 1478,782 1494,762 1523,758 1545,760 1577,758 1593,743 1625,745 1659,747 1668,766 1680,757 1710,760 1742,764 1770,760 1791,758 1816,755 1833,766 1845,758 1874,762 1882,777 1886,758 1915,770 1948,751 1981,751 2006,762 2022,751 2047,752"/>
<ellipse class="k" cx="1963" cy="771" rx="5" ry="2"/><ellipse class="k" cx="1981" cy="766" rx="5" ry="2"/>
<polyline class="k" points="691,906 707,916 734,920 770,918 779,931"/>
<polyline class="k" points="884,890 894,901 923,905 964,903 972,916"/>
<polyline class="k" points="1080,890 1107,897 1139,890 1147,886 1172,888"/>
<polyline class="k" points="1272,892 1282,903 1311,903 1343,888 1368,888"/>
<polyline class="k" points="1465,931 1478,945 1510,940 1544,933 1575,930 1610,925 1635,933 1670,930 1705,931 1709,943 1740,946 1771,950 1800,948 1833,950 1866,950 1874,973 1903,995 1915,984 1936,995 1936,1014 1956,1022 1977,1033 2000,1036 2018,1037 2047,1050"/>
<ellipse class="k" cx="1924" cy="977" rx="6" ry="3"/><ellipse class="k" cx="1950" cy="975" rx="5" ry="3"/><ellipse class="k" cx="1920" cy="1011" rx="10" ry="4"/><ellipse class="k" cx="1943" cy="1008" rx="9" ry="4"/>
<polyline class="k" points="691,1319 725,1323 770,1326 779,1317"/>
<polyline class="k" points="886,1349 894,1334 923,1336 972,1323"/>
<polyline class="k" points="1080,1341 1127,1332 1166,1326"/>
<polyline class="k" points="1274,1330 1286,1321 1311,1330 1360,1317"/>
<polyline class="k" points="1465,1289 1503,1300 1527,1311 1560,1318 1593,1321 1630,1316 1668,1311 1709,1300 1730,1293 1775,1285 1800,1266 1833,1255 1866,1240 1874,1225 1895,1213 1915,1202 1950,1200 1977,1202 1989,1213 2018,1195 2047,1187"/>
<ellipse class="k" cx="1910" cy="1227" rx="6" ry="3"/><ellipse class="k" cx="1935" cy="1230" rx="6" ry="3"/><ellipse class="k" cx="1905" cy="1248" rx="5" ry="2"/>
<polyline class="k" points="497,1374 520,1375 529,1360 542,1360 551,1375 569,1379 584,1360"/>
<polyline class="k" points="685,1375 703,1390 747,1396 800,1398 837,1394 870,1396 898,1398 925,1405 951,1411 980,1412 1005,1413 1035,1412 1066,1411 1095,1412 1119,1414 1135,1426 1150,1424 1172,1428 1190,1432 1205,1439 1229,1424 1245,1437 1270,1429 1290,1430 1311,1432 1330,1436 1351,1441 1384,1437 1420,1443 1440,1448 1465,1466 1486,1452 1503,1439 1523,1451 1544,1451 1565,1445 1585,1439 1626,1443 1647,1458 1668,1451 1709,1454 1730,1464 1750,1454 1791,1458 1808,1443 1833,1458 1853,1464 1874,1451 1915,1464 1940,1454 1969,1462 1998,1466 2020,1468 2047,1467"/>
<polyline class="k" points="1340,1455 1347,1470 1351,1484 1365,1478"/>
<polyline class="k" points="1420,1450 1430,1456 1415,1460"/>
<ellipse class="k" cx="1487" cy="1470" rx="5" ry="3"/><ellipse class="k" cx="1535" cy="1474" rx="5" ry="2"/><ellipse class="k" cx="1983" cy="1475" rx="9" ry="3"/><ellipse class="k" cx="2035" cy="1482" rx="9" ry="3"/>
<circle cx="1699" cy="1451" r="2.5"/><circle cx="1873" cy="1472" r="2.5"/><circle cx="1934" cy="1479" r="2.5"/><circle cx="1276" cy="1417" r="2.5"/><circle cx="1538" cy="1428" r="2.5"/>
</g>
<rect class="ax" x="109" y="547" width="1937" height="1162.2"/>
<g class="tk">
<line x1="205.85" y1="547" x2="205.85" y2="566"/><line x1="399.55" y1="547" x2="399.55" y2="566"/><line x1="593.25" y1="547" x2="593.25" y2="566"/><line x1="786.95" y1="547" x2="786.95" y2="566"/><line x1="980.65" y1="547" x2="980.65" y2="566"/><line x1="1174.35" y1="547" x2="1174.35" y2="566"/><line x1="1368.05" y1="547" x2="1368.05" y2="566"/><line x1="1561.75" y1="547" x2="1561.75" y2="566"/><line x1="1755.45" y1="547" x2="1755.45" y2="566"/><line x1="1949.15" y1="547" x2="1949.15" y2="566"/>
<line x1="1561.75" y1="1709.2" x2="1561.75" y2="1690.2"/><line x1="1755.45" y1="1709.2" x2="1755.45" y2="1690.2"/><line x1="1949.15" y1="1709.2" x2="1949.15" y2="1690.2"/>
<line x1="109" y1="740.7" x2="128" y2="740.7"/><line x1="109" y1="934.4" x2="128" y2="934.4"/><line x1="109" y1="1128.1" x2="128" y2="1128.1"/><line x1="109" y1="1321.8" x2="128" y2="1321.8"/><line x1="109" y1="1515.5" x2="128" y2="1515.5"/>
<line x1="2046" y1="740.7" x2="2027" y2="740.7"/><line x1="2046" y1="934.4" x2="2027" y2="934.4"/><line x1="2046" y1="1128.1" x2="2027" y2="1128.1"/><line x1="2046" y1="1321.8" x2="2027" y2="1321.8"/><line x1="2046" y1="1515.5" x2="2027" y2="1515.5"/>
</g>
<g class="t" text-anchor="end">
<text x="97" y="557">6</text><text x="97" y="750.7">4</text><text x="97" y="944.4">2</text><text x="97" y="1138.1">0</text>
<text x="97" y="1331.8">-2</text><text x="97" y="1525.5">-4</text><text x="97" y="1719.2">-6</text>
</g>
<g class="t" text-anchor="middle">
<text x="205.85" y="1750">0</text><text x="399.55" y="1750">2</text><text x="593.25" y="1750">4</text><text x="786.95" y="1750">6</text><text x="980.65" y="1750">8</text><text x="1174.35" y="1750">10</text><text x="1368.05" y="1750">12</text><text x="1561.75" y="1750">14</text><text x="1755.45" y="1750">16</text><text x="1949.15" y="1750">18</text>
</g>
<text class="s" x="131" y="603" font-size="40">(b)</text>
<text class="s" font-size="34" text-anchor="middle" transform="translate(51,1128) rotate(-90)"><tspan font-style="italic">y</tspan>/<tspan font-style="italic">H</tspan></text>
<text class="s" font-size="35" text-anchor="middle" x="1077" y="1788"><tspan font-style="italic">x</tspan>/<tspan font-style="italic">H</tspan></text>
</svg>
</body></html>
